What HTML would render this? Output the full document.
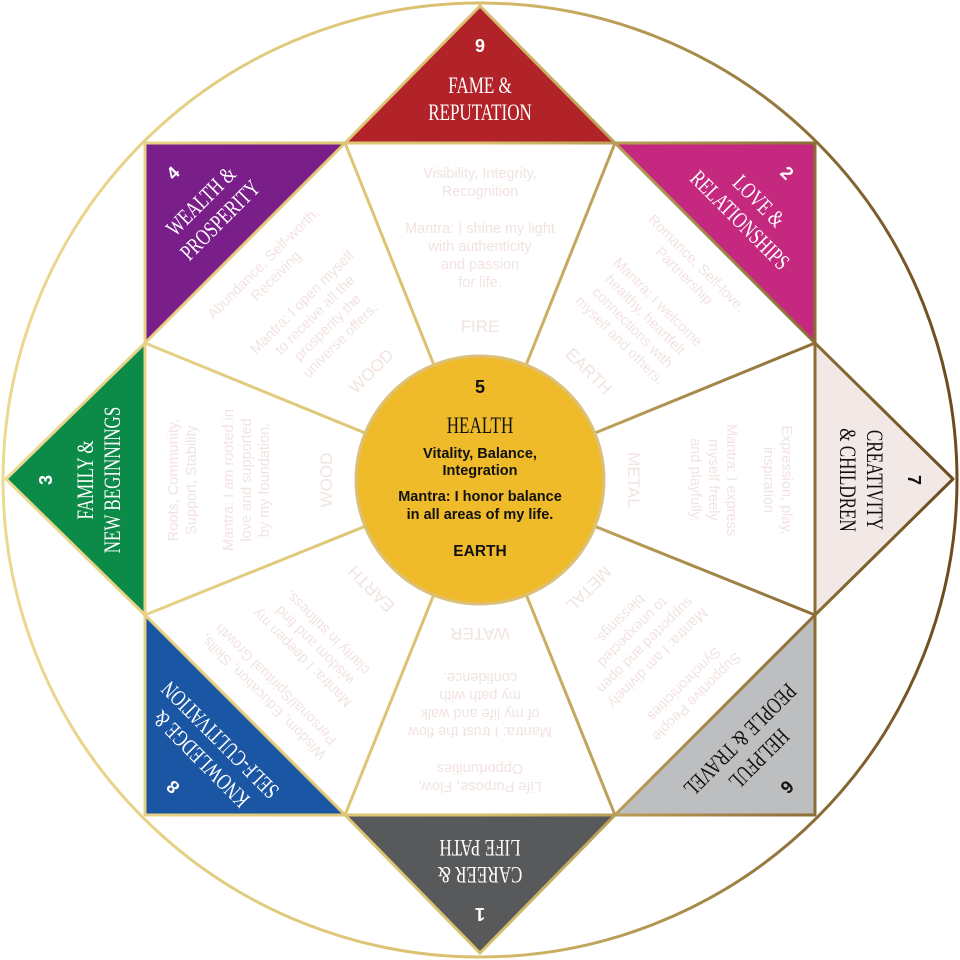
<!DOCTYPE html>
<html><head><meta charset="utf-8"><style>
html,body{margin:0;padding:0;background:#fff;}
svg{display:block}
.lt{font-family:"Liberation Sans",sans-serif;font-size:14.5px;fill:#f1e3e0;text-anchor:middle;}
.el{font-family:"Liberation Sans",sans-serif;font-size:17px;fill:#f1e3e0;text-anchor:middle;}
.num{font-family:"Liberation Sans",sans-serif;font-size:18px;font-weight:bold;text-anchor:middle;}
.lab{font-family:"Liberation Serif",serif;font-size:23px;text-anchor:middle;}
.c{font-family:"Liberation Sans",sans-serif;font-size:14.5px;fill:#111;text-anchor:middle;}
</style></head><body>
<svg width="960" height="960" viewBox="0 0 960 960" xmlns="http://www.w3.org/2000/svg">
<defs>
<linearGradient id="g" gradientUnits="userSpaceOnUse" x1="0" y1="0" x2="960" y2="0">
<stop offset="0" stop-color="#ecd990"/><stop offset="0.5" stop-color="#d9bf6e"/><stop offset="1" stop-color="#6a4a1e"/>
</linearGradient>
</defs>
<circle cx="480" cy="480" r="477" fill="#fff" stroke="url(#g)" stroke-width="3"/>
<polygon points="345,143 615,143 480,6" fill="#b22329"/>
<polygon points="615,143 815,143 815,343" fill="#c4287f"/>
<polygon points="815,343 815,615 953,479" fill="#f2e9e6"/>
<polygon points="815,615 815,815 615,815" fill="#bdbec0"/>
<polygon points="615,815 345,815 480,953" fill="#58595b"/>
<polygon points="345,815 145,815 145,615" fill="#1a56a3"/>
<polygon points="145,615 145,343 6,479" fill="#0c8a48"/>
<polygon points="145,343 145,143 345,143" fill="#7a1f8a"/>
<g fill="none" stroke="url(#g)" stroke-width="3" stroke-linejoin="round">
<polygon points="145,143 815,143 815,815 145,815"/>
<polygon points="345,143 615,143 815,343 815,615 615,815 345,815 145,615 145,343"/>
<polyline points="345,143 480,6 615,143"/>
<polyline points="815,343 953,479 815,615"/>
<polyline points="615,815 480,953 345,815"/>
<polyline points="145,615 6,479 145,343"/>
<line x1="480" y1="480" x2="345" y2="143"/><line x1="480" y1="480" x2="615" y2="143"/>
<line x1="480" y1="480" x2="815" y2="343"/><line x1="480" y1="480" x2="815" y2="615"/>
<line x1="480" y1="480" x2="615" y2="815"/><line x1="480" y1="480" x2="345" y2="815"/>
<line x1="480" y1="480" x2="145" y2="615"/><line x1="480" y1="480" x2="145" y2="343"/>
</g>

<g transform="rotate(0 480 480)">
<text class="num" x="480" y="52" fill="#fff">9</text>
<g transform="translate(480,0) scale(0.74,1)"><text class="lab" x="0" y="93" fill="#fff">FAME &amp;</text>
<text class="lab" x="0" y="120" fill="#fff">REPUTATION</text></g>
<text class="lt" x="480" y="178">Visibility, Integrity,</text>
<text class="lt" x="480" y="196">Recognition</text>
<text class="lt" x="480" y="233">Mantra: I shine my light</text>
<text class="lt" x="480" y="251">with authenticity</text>
<text class="lt" x="480" y="269">and passion</text>
<text class="lt" x="480" y="287">for life.</text>
<text class="el" x="480" y="332">FIRE</text>
</g>
<g transform="rotate(45 480 480)">
<text class="num" x="480" y="52" fill="#fff">2</text>
<g transform="translate(480,0) scale(0.74,1)"><text class="lab" x="0" y="93" fill="#fff">LOVE &amp;</text>
<text class="lab" x="0" y="120" fill="#fff">RELATIONSHIPS</text></g>
<text class="lt" x="480" y="178">Romance, Self-love,</text>
<text class="lt" x="480" y="196">Partnership</text>
<text class="lt" x="480" y="233">Mantra: I welcome</text>
<text class="lt" x="480" y="251">healthy, heartfelt</text>
<text class="lt" x="480" y="269">connections with</text>
<text class="lt" x="480" y="287">myself and others.</text>
<text class="el" x="480" y="332">EARTH</text>
</g>
<g transform="rotate(90 480 480)">
<text class="num" x="480" y="52" fill="#111">7</text>
<g transform="translate(480,0) scale(0.74,1)"><text class="lab" x="0" y="93" fill="#111">CREATIVITY</text>
<text class="lab" x="0" y="120" fill="#111">&amp; CHILDREN</text></g>
<text class="lt" x="480" y="178">Expression, play,</text>
<text class="lt" x="480" y="196">inspiration</text>
<text class="lt" x="480" y="233">Mantra: I express</text>
<text class="lt" x="480" y="251">myself freely</text>
<text class="lt" x="480" y="269">and playfully.</text>
<text class="el" x="480" y="332">METAL</text>
</g>
<g transform="rotate(135 480 480)">
<text class="num" x="480" y="52" fill="#111">6</text>
<g transform="translate(480,0) scale(0.74,1)"><text class="lab" x="0" y="93" fill="#111">HELPFUL</text>
<text class="lab" x="0" y="120" fill="#111">PEOPLE &amp; TRAVEL</text></g>
<text class="lt" x="480" y="178">Supportive People</text>
<text class="lt" x="480" y="196">Synchronicities</text>
<text class="lt" x="480" y="233">Mantra: I am divinely</text>
<text class="lt" x="480" y="251">supported and open</text>
<text class="lt" x="480" y="269">to unexpected</text>
<text class="lt" x="480" y="287">blessings.</text>
<text class="el" x="480" y="332">METAL</text>
</g>
<g transform="rotate(180 480 480)">
<text class="num" x="480" y="52" fill="#fff">1</text>
<g transform="translate(480,0) scale(0.74,1)"><text class="lab" x="0" y="93" fill="#fff">CAREER &amp;</text>
<text class="lab" x="0" y="120" fill="#fff">LIFE PATH</text></g>
<text class="lt" x="480" y="178">Life Purpose, Flow,</text>
<text class="lt" x="480" y="196">Opportunities</text>
<text class="lt" x="480" y="233">Mantra: I trust the flow</text>
<text class="lt" x="480" y="251">of my life and walk</text>
<text class="lt" x="480" y="269">my path with</text>
<text class="lt" x="480" y="287">confidence.</text>
<text class="el" x="480" y="332">WATER</text>
</g>
<g transform="rotate(225 480 480)">
<text class="num" x="480" y="52" fill="#fff">8</text>
<g transform="translate(480,0) scale(0.74,1)"><text class="lab" x="0" y="93" fill="#fff">KNOWLEDGE &amp;</text>
<text class="lab" x="0" y="120" fill="#fff">SELF-CULTIVATION</text></g>
<text class="lt" x="480" y="178">Wisdom, Education, Skills,</text>
<text class="lt" x="480" y="196">Personal/Spiritual Growth</text>
<text class="lt" x="480" y="233">Mantra: I deepen my</text>
<text class="lt" x="480" y="251">wisdom and find</text>
<text class="lt" x="480" y="269">clarity in stillness.</text>
<text class="el" x="480" y="332">EARTH</text>
</g>
<g transform="rotate(270 480 480)">
<text class="num" x="480" y="52" fill="#fff">3</text>
<g transform="translate(480,0) scale(0.74,1)"><text class="lab" x="0" y="93" fill="#fff">FAMILY &amp;</text>
<text class="lab" x="0" y="120" fill="#fff">NEW BEGINNINGS</text></g>
<text class="lt" x="480" y="178">Roots, Community,</text>
<text class="lt" x="480" y="196">Support, Stability</text>
<text class="lt" x="480" y="233">Mantra: I am rooted in</text>
<text class="lt" x="480" y="251">love and supported</text>
<text class="lt" x="480" y="269">by my foundation.</text>
<text class="el" x="480" y="332">WOOD</text>
</g>
<g transform="rotate(315 480 480)">
<text class="num" x="480" y="52" fill="#fff">4</text>
<g transform="translate(480,0) scale(0.74,1)"><text class="lab" x="0" y="93" fill="#fff">WEALTH &amp;</text>
<text class="lab" x="0" y="120" fill="#fff">PROSPERITY</text></g>
<text class="lt" x="480" y="178">Abundance, Self-worth,</text>
<text class="lt" x="480" y="196">Receiving</text>
<text class="lt" x="480" y="233">Mantra: I open myself</text>
<text class="lt" x="480" y="251">to receive all the</text>
<text class="lt" x="480" y="269">prosperity the</text>
<text class="lt" x="480" y="287">universe offers.</text>
<text class="el" x="480" y="332">WOOD</text>
</g>

<circle cx="480" cy="480" r="124" fill="#efbb2b" stroke="#dcc07a" stroke-width="3"/>
<text class="num" x="480" y="393" fill="#111">5</text>
<g transform="translate(480,0) scale(0.74,1)"><text class="lab" x="0" y="433" fill="#111">HEALTH</text></g>
<text class="c" x="480" y="458" style="font-weight:bold">Vitality, Balance,</text>
<text class="c" x="480" y="475" style="font-weight:bold">Integration</text>
<text class="c" x="480" y="501" style="font-weight:bold">Mantra: I honor balance</text>
<text class="c" x="480" y="519" style="font-weight:bold">in all areas of my life.</text>
<text class="c" x="480" y="556" style="font-size:15.5px;font-weight:bold">EARTH</text>
</svg>
</body></html>
